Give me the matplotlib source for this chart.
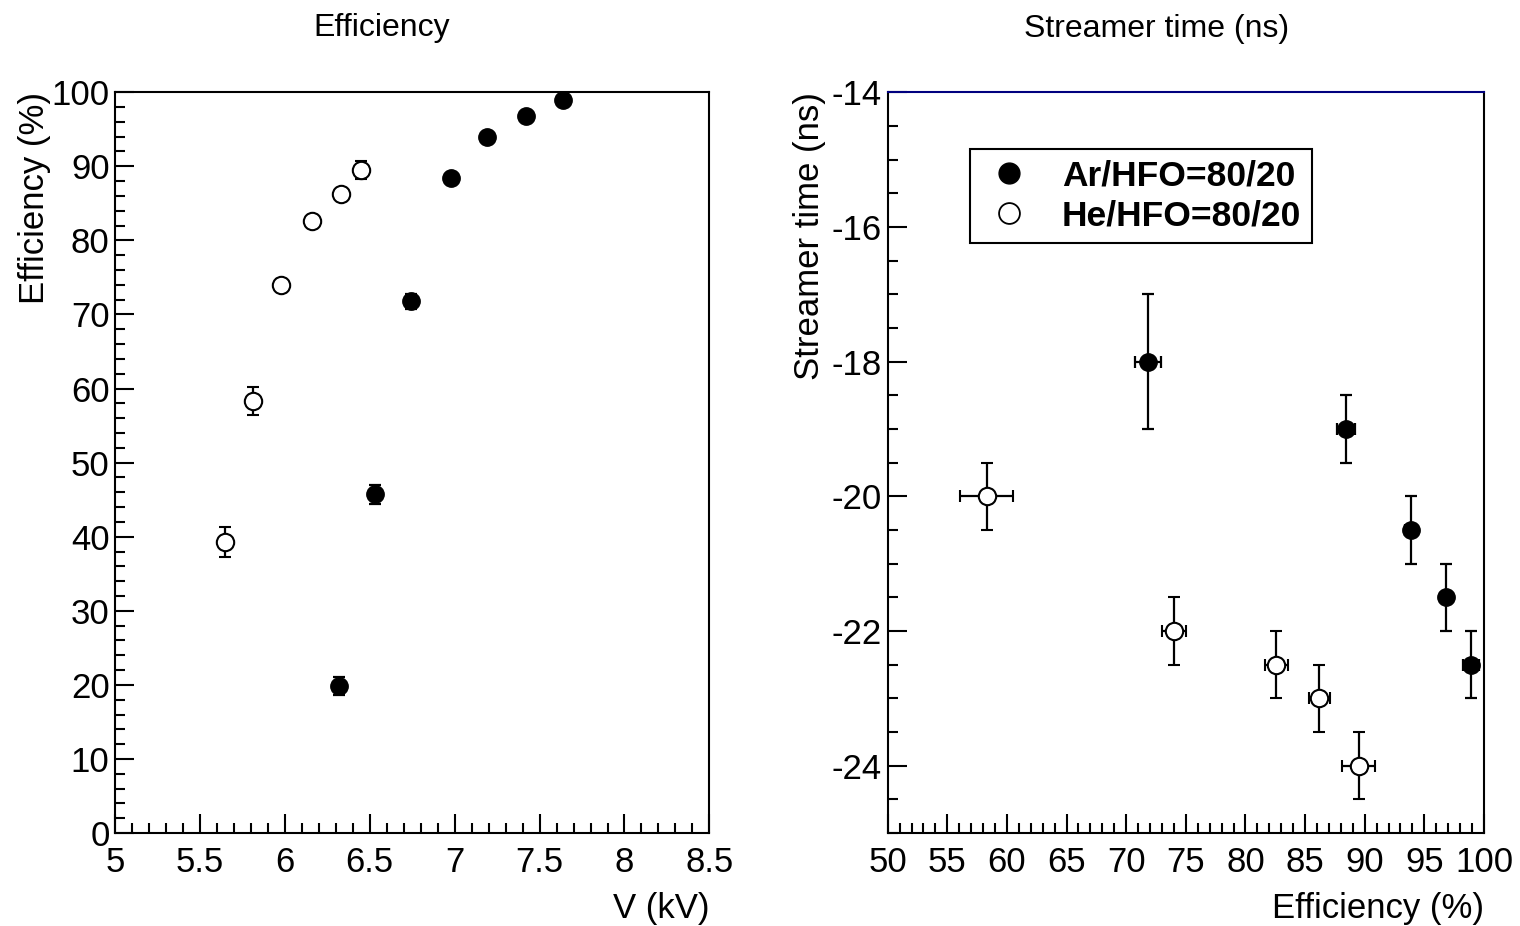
import matplotlib
matplotlib.use('Agg')
import matplotlib.pyplot as plt
from matplotlib.ticker import MultipleLocator
from matplotlib.lines import Line2D

plt.rcParams['font.family'] = ['Liberation Sans', 'DejaVu Sans']
plt.rcParams['axes.unicode_minus'] = False

# Efficiency vs HV
ar_v = [6.32, 6.53, 6.74, 6.98, 7.19, 7.42, 7.64]
ar_eff = [19.8, 45.7, 71.8, 88.4, 93.9, 96.8, 98.9]
ar_eff_err = [1.2, 1.3, 1.0, 0.6, 0.5, 0.4, 0.3]

he_v = [5.65, 5.81, 5.98, 6.16, 6.33, 6.45]
he_eff = [39.3, 58.3, 74.0, 82.6, 86.2, 89.5]
he_eff_err = [2.0, 1.9, 0.8, 0.7, 0.8, 1.2]

# Streamer time vs efficiency
ar_st_eff = [71.8, 88.4, 93.9, 96.8, 98.9]
ar_st_eff_err = [1.1, 0.75, 0.5, 0.4, 0.7]
ar_st = [-18.0, -19.0, -20.5, -21.5, -22.5]
ar_st_err = [1.0, 0.5, 0.5, 0.5, 0.5]

he_st_eff = [58.3, 74.0, 82.6, 86.2, 89.5]
he_st_eff_err = [2.2, 1.0, 1.0, 0.9, 1.4]
he_st = [-20.0, -22.0, -22.5, -23.0, -24.0]
he_st_err = [0.5, 0.5, 0.5, 0.5, 0.5]

fig = plt.figure(figsize=(15.2, 9.26), dpi=100)
ax1 = fig.add_axes([0.0757, 0.1004, 0.391, 0.800])
ax2 = fig.add_axes([0.584, 0.1004, 0.3923, 0.800])

ms = 12.5
elw = 1.6
cap = 4.5
fs = 25

def style(ax):
    for s in ax.spines.values():
        s.set_linewidth(1.5)
    ax.tick_params(which='both', direction='in', top=False, right=False,
                   labelsize=fs, width=1.5)
    ax.tick_params(axis='x', pad=9)
    ax.tick_params(axis='y', pad=4)
    ax.tick_params(which='major', length=14)
    ax.tick_params(which='minor', length=7)

# left panel
ax1.errorbar(ar_v, ar_eff, yerr=ar_eff_err, fmt='o', color='black', ms=ms,
             mfc='black', mec='black', elinewidth=elw, capsize=cap, capthick=elw)
ax1.errorbar(he_v, he_eff, yerr=he_eff_err, fmt='o', color='black', ms=ms,
             mfc='white', mec='black', mew=1.5, elinewidth=elw, capsize=cap,
             capthick=elw)
ax1.set_xlim(5, 8.5)
ax1.set_ylim(0, 100)
ax1.xaxis.set_minor_locator(MultipleLocator(0.1))
ax1.yaxis.set_major_locator(MultipleLocator(10))
ax1.yaxis.set_minor_locator(MultipleLocator(2))
ax1.set_xticks([5, 5.5, 6, 6.5, 7, 7.5, 8, 8.5])
ax1.set_xticklabels(['5', '5.5', '6', '6.5', '7', '7.5', '8', '8.5'])
style(ax1)
ax1.set_xlabel('V (kV)', fontsize=fs, loc='right', labelpad=10)
ax1.set_ylabel('Efficiency (%)', fontsize=fs, loc='top', labelpad=0)

# right panel
ax2.errorbar(ar_st_eff, ar_st, xerr=ar_st_eff_err, yerr=ar_st_err, fmt='o',
             color='black', ms=ms, mfc='black', mec='black', elinewidth=elw,
             capsize=cap, capthick=elw)
ax2.errorbar(he_st_eff, he_st, xerr=he_st_eff_err, yerr=he_st_err, fmt='o',
             color='black', ms=ms, mfc='white', mec='black', mew=1.5,
             elinewidth=elw, capsize=cap, capthick=elw)
ax2.set_xlim(50, 100)
ax2.set_ylim(-25, -14)
ax2.xaxis.set_major_locator(MultipleLocator(5))
ax2.xaxis.set_minor_locator(MultipleLocator(1))
ax2.yaxis.set_major_locator(MultipleLocator(2))
ax2.yaxis.set_minor_locator(MultipleLocator(0.5))
style(ax2)
ax2.spines['top'].set_color('#00007f')
ax2.set_xlabel('Efficiency (%)', fontsize=fs, loc='right', labelpad=10)
ax2.set_ylabel('Streamer time (ns)', fontsize=fs, loc='top', labelpad=4)

handles = [Line2D([], [], ls='none', marker='o', ms=15, mfc='black', mec='black'),
           Line2D([], [], ls='none', marker='o', ms=15, mfc='white', mec='black', mew=1.3)]
leg = ax2.legend(handles, ['Ar/HFO=80/20', 'He/HFO=80/20'],
                 loc='upper left', bbox_to_anchor=(0.138, 0.924),
                 borderaxespad=0,
                 prop={'weight': 'bold', 'size': 25.5}, frameon=True,
                 fancybox=False, edgecolor='black', framealpha=1,
                 handletextpad=0.7, borderpad=0.3, labelspacing=0.2,
                 handlelength=1.6)
leg.get_frame().set_linewidth(1.5)

fig.text(0.2513, 0.970, 'Efficiency', fontsize=23, ha='center', va='center')
fig.text(0.761, 0.969, 'Streamer time (ns)', fontsize=23, ha='center', va='center')

fig.savefig('out.png', dpi=100)
